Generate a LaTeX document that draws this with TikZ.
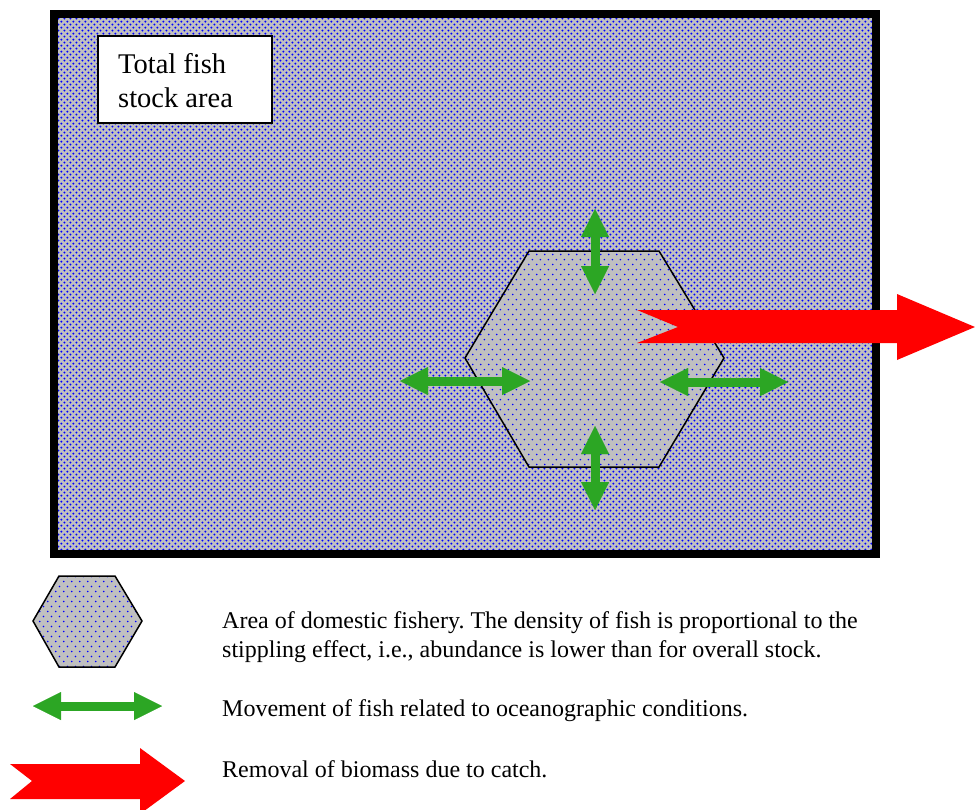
\documentclass[tikz,border=0pt]{standalone}
\usepackage{fontspec}
\setmainfont{Liberation Serif}
\usetikzlibrary{arrows.meta,patterns.meta}
\definecolor{silverbg}{HTML}{C0C0C0}
\definecolor{dotblue}{HTML}{0000FF}
\definecolor{fishgreen}{RGB}{44,166,36}
\definecolor{catchred}{HTML}{FF0000}
\pgfdeclarepattern{
  name=stockdots,
  type=uncolored,
  bottom left={\pgfpoint{0pt}{0pt}},
  top right={\pgfpoint{6.4pt}{6.4pt}},
  tile size={\pgfpoint{6.4pt}{6.4pt}},
  code={
    \pgfpathcircle{\pgfpoint{1.6pt}{1.6pt}}{1.15pt}
    \pgfpathcircle{\pgfpoint{4.8pt}{4.8pt}}{1.15pt}
    \pgfusepathqfill
  }
}
\pgfdeclarepattern{
  name=hexdots,
  type=uncolored,
  bottom left={\pgfpoint{0pt}{0pt}},
  top right={\pgfpoint{7.6pt}{10.4pt}},
  tile size={\pgfpoint{7.6pt}{10.4pt}},
  code={
    \pgfpathcircle{\pgfpoint{1.9pt}{2.6pt}}{0.9pt}
    \pgfpathcircle{\pgfpoint{5.7pt}{7.8pt}}{0.9pt}
    \pgfusepathqfill
  }
}
\tikzset{
  stockarea/.style={preaction={fill=silverbg}, pattern=stockdots, pattern color=dotblue, line width=8pt},
  fishery/.style={preaction={fill=silverbg}, pattern=hexdots, pattern color=dotblue, line width=1.5pt, line join=miter},
  labelbox/.style={draw, line width=1.5pt, fill=white, anchor=north west, inner sep=0pt},
  movearrow/.style={draw=fishgreen, line width=9pt,
    {Triangle[length=28pt,width=28pt,line width=0.01pt]}-{Triangle[length=28pt,width=28pt,line width=0.01pt]}},
  catcharrow/.style={fill=catchred, draw=none},
  bigtext/.style={anchor=base west, inner sep=0pt, font=\fontsize{28.5}{34}\selectfont},
  legtext/.style={anchor=base west, inner sep=0pt, font=\fontsize{24}{28.8}\selectfont},
}
\frenchspacing
\begin{document}
\begin{tikzpicture}[x=1pt,y=-1pt]
\useasboundingbox (0,0) rectangle (975,809);
% total stock area
\draw[stockarea] (54,14) rectangle (875.5,554);
% label
\node[labelbox, minimum width=174pt, minimum height=87pt] (labelbox) at (97,35) {};
\node[bigtext] (title1) at (118,73) {Total fish};
\node[bigtext] (title2) at (118,107) {stock area};
% domestic fishery
\draw[fishery] (529,251) -- (659,251) -- (724,358) -- (659,467) -- (529,467) -- (465,358) -- cycle;
% removal (catch)
\fill[catcharrow] (637,310) -- (897,310) -- (897,294) -- (975,327) -- (897,360) -- (897,343) -- (637,343) -- (678,327) -- cycle;
% movement arrows
\coordinate (t1) at (595,209); \coordinate (t2) at (595,294);
\coordinate (b1) at (595,426); \coordinate (b2) at (595,510);
\coordinate (l1) at (400,381); \coordinate (l2) at (530,381);
\coordinate (r1) at (660,382); \coordinate (r2) at (788,382);
\draw[movearrow] (t1) -- (t2);
\draw[movearrow] (b1) -- (b2);
\draw[movearrow] (l1) -- (l2);
\draw[movearrow] (r1) -- (r2);
% legend
\draw[fishery] (59,576) -- (115,576) -- (142,621) -- (115,667) -- (59,667) -- (33,621) -- cycle;
\coordinate (g1) at (33,706); \coordinate (g2) at (162,706);
\draw[movearrow] (g1) -- (g2);
\fill[catcharrow] (10,764) -- (140,764) -- (140,748) -- (185,781) -- (140,814) -- (140,799) -- (10,799) -- (32,781) -- cycle;
\node[legtext] (leg1a) at (222,628) {Area of domestic fishery. The density of fish is proportional to the};
\node[legtext] (leg1b) at (222,657) {stippling effect, i.e., abundance is lower than for overall stock.};
\node[legtext] (leg2) at (222,716) {Movement of fish related to oceanographic conditions.};
\node[legtext] (leg3) at (222,777) {Removal of biomass due to catch.};
\end{tikzpicture}
\end{document}
